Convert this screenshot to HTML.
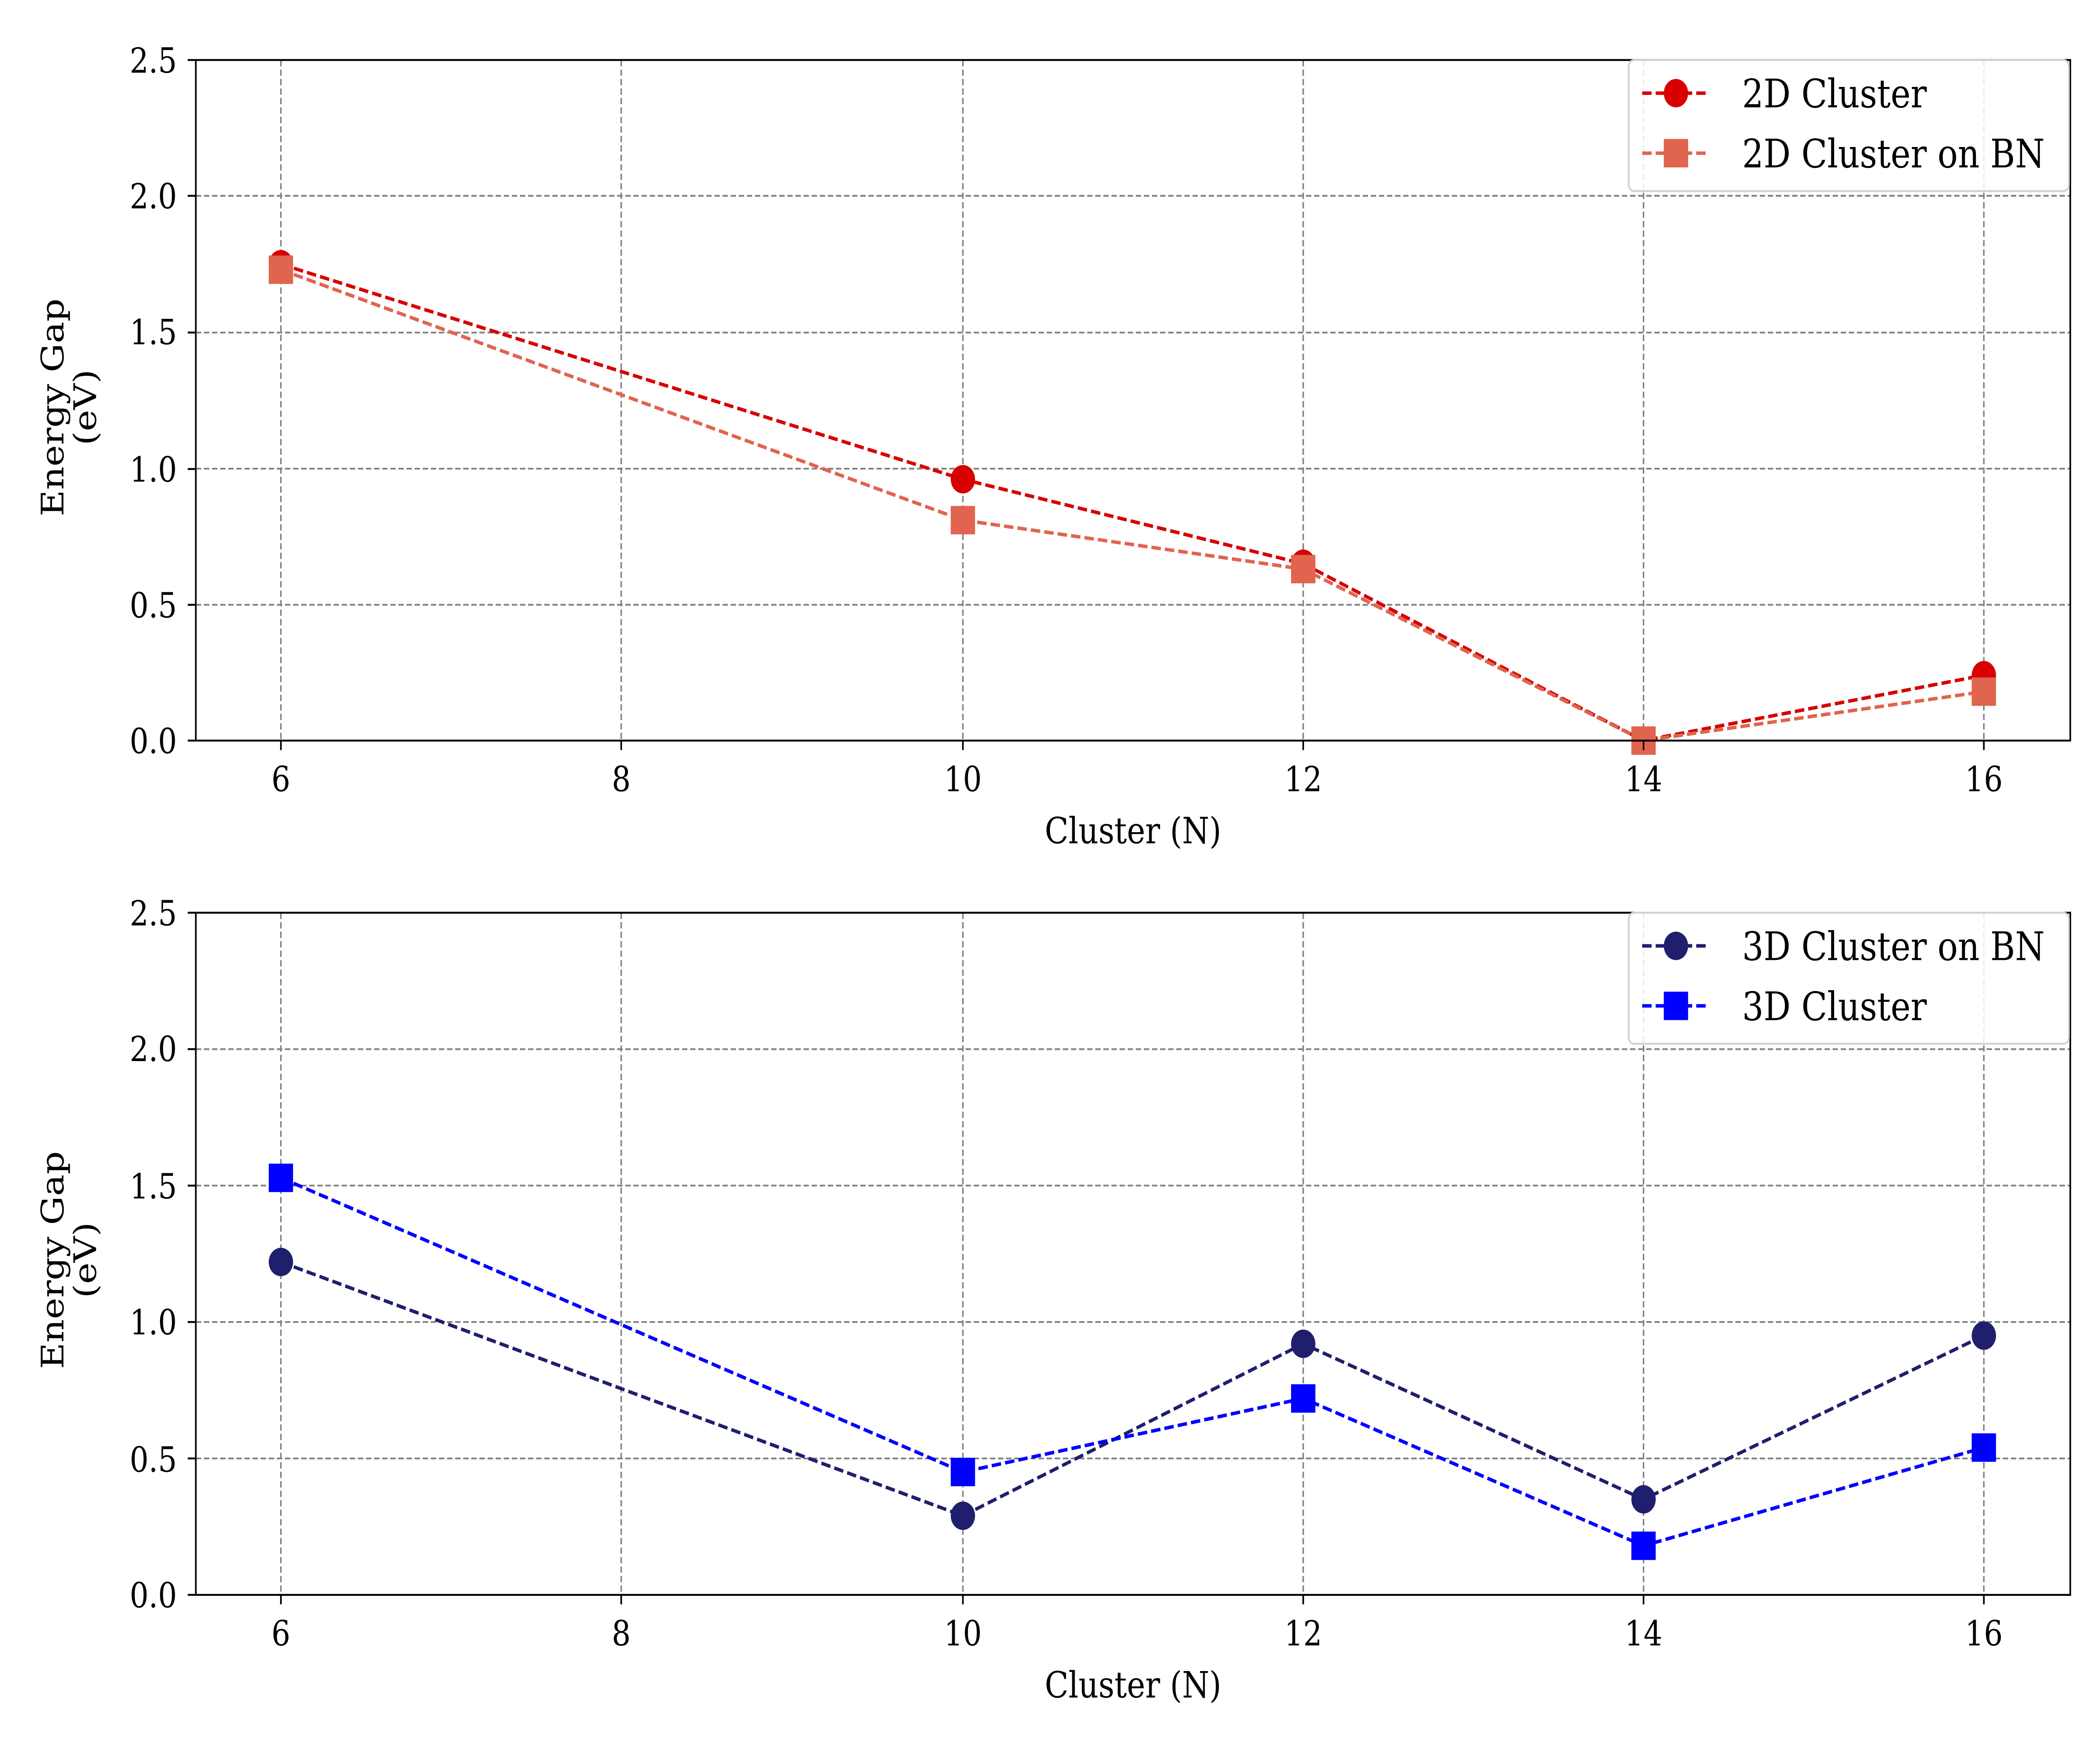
<!DOCTYPE html>
<html><head><meta charset="utf-8"><style>html,body{margin:0;padding:0;background:#fff;overflow:hidden;width:100%;height:100%}svg{display:block;width:100vw;height:100vh}</style></head>
<body>
<svg viewBox="0 0 1555 1100" preserveAspectRatio="none" xmlns="http://www.w3.org/2000/svg" font-family="DejaVu Serif, Liberation Serif, serif">
<rect width="1555" height="1100" fill="#fff"/>
<g id="top">
<g stroke="#808080" stroke-width="1.1" stroke-dasharray="4,2" fill="none">
<line x1="208" y1="38" x2="208" y2="469"/><line x1="460" y1="38" x2="460" y2="469"/><line x1="713" y1="38" x2="713" y2="469"/><line x1="965" y1="38" x2="965" y2="469"/><line x1="1217" y1="38" x2="1217" y2="469"/><line x1="1469" y1="38" x2="1469" y2="469"/>
<line x1="145" y1="124" x2="1533" y2="124"/><line x1="145" y1="210.6" x2="1533" y2="210.6"/><line x1="145" y1="296.8" x2="1533" y2="296.8"/><line x1="145" y1="383" x2="1533" y2="383"/>
</g>
<polyline fill="none" stroke="#d80000" stroke-width="2.2" stroke-dasharray="7,3" points="208,167.3 713,303.5 965,357 1217,469 1469,427.6"/>
<polyline fill="none" stroke="#e0644e" stroke-width="2.2" stroke-dasharray="7,3" points="208,170.8 713,329.4 965,360.4 1217,469 1469,438"/>
<g fill="#d80000"><circle cx="208" cy="167.3" r="9"/><circle cx="713" cy="303.5" r="9"/><circle cx="965" cy="357" r="9"/><circle cx="1217" cy="469" r="9"/><circle cx="1469" cy="427.6" r="9"/></g>
<g fill="#e0644e"><rect x="199" y="161.8" width="18" height="18"/><rect x="704" y="320.4" width="18" height="18"/><rect x="956" y="351.4" width="18" height="18"/><rect x="1208" y="460" width="18" height="18"/><rect x="1460" y="429" width="18" height="18"/></g>
<rect x="145" y="38" width="1388" height="431" fill="none" stroke="#000" stroke-width="1.2"/>
<rect x="1206" y="38" width="326" height="83" rx="4" fill="#fff" fill-opacity="0.85" stroke="#d0d0d0" stroke-width="1.2"/>
<line x1="1216" y1="59" x2="1266" y2="59" stroke="#d80000" stroke-width="2.2" stroke-dasharray="7,3"/><circle cx="1241" cy="59" r="9" fill="#d80000"/>
<line x1="1216" y1="97" x2="1266" y2="97" stroke="#e0644e" stroke-width="2.2" stroke-dasharray="7,3"/><rect x="1232" y="88" width="18" height="18" fill="#e0644e"/>
<text x="1290" y="68" font-size="25">2D Cluster</text><text x="1290" y="106" font-size="25">2D Cluster on BN</text>
<g font-size="22" text-anchor="end"><text x="131" y="477">0.0</text><text x="131" y="391">0.5</text><text x="131" y="305">1.0</text><text x="131" y="218">1.5</text><text x="131" y="132">2.0</text><text x="131" y="46">2.5</text></g>
<g stroke="#000" stroke-width="1.2"><line x1="139" y1="469" x2="145" y2="469"/><line x1="139" y1="383" x2="145" y2="383"/><line x1="139" y1="297" x2="145" y2="297"/><line x1="139" y1="210.6" x2="145" y2="210.6"/><line x1="139" y1="124" x2="145" y2="124"/><line x1="139" y1="38" x2="145" y2="38"/>
<line x1="208" y1="469" x2="208" y2="475"/><line x1="460" y1="469" x2="460" y2="475"/><line x1="713" y1="469" x2="713" y2="475"/><line x1="965" y1="469" x2="965" y2="475"/><line x1="1217" y1="469" x2="1217" y2="475"/><line x1="1469" y1="469" x2="1469" y2="475"/></g>
<g font-size="22" text-anchor="middle"><text x="208" y="501">6</text><text x="460" y="501">8</text><text x="713" y="501">10</text><text x="965" y="501">12</text><text x="1217" y="501">14</text><text x="1469" y="501">16</text></g>
<text x="839" y="534" font-size="23" text-anchor="middle">Cluster (N)</text>
<text transform="translate(47,258) rotate(-90)" font-size="23" text-anchor="middle">Energy Gap</text>
<text transform="translate(71,258) rotate(-90)" font-size="23" text-anchor="middle">(eV)</text>
</g>
<g id="bottom">
<g stroke="#808080" stroke-width="1.1" stroke-dasharray="4,2" fill="none">
<line x1="208" y1="578" x2="208" y2="1010"/><line x1="460" y1="578" x2="460" y2="1010"/><line x1="713" y1="578" x2="713" y2="1010"/><line x1="965" y1="578" x2="965" y2="1010"/><line x1="1217" y1="578" x2="1217" y2="1010"/><line x1="1469" y1="578" x2="1469" y2="1010"/>
<line x1="145" y1="664.4" x2="1533" y2="664.4"/><line x1="145" y1="750.8" x2="1533" y2="750.8"/><line x1="145" y1="837.2" x2="1533" y2="837.2"/><line x1="145" y1="923.6" x2="1533" y2="923.6"/>
</g>
<polyline fill="none" stroke="#1f1f6e" stroke-width="2.2" stroke-dasharray="7,3" points="208,799.2 713,959.9 965,851 1217,949.5 1469,845.8"/>
<polyline fill="none" stroke="#0000ff" stroke-width="2.2" stroke-dasharray="7,3" points="208,745.9 713,932.2 965,885.6 1217,978.9 1469,916.7"/>
<g fill="#1f1f6e"><circle cx="208" cy="799.2" r="9"/><circle cx="713" cy="959.9" r="9"/><circle cx="965" cy="851" r="9"/><circle cx="1217" cy="949.5" r="9"/><circle cx="1469" cy="845.8" r="9"/></g>
<g fill="#0000ff"><rect x="199" y="736.9" width="18" height="18"/><rect x="704" y="923.2" width="18" height="18"/><rect x="956" y="876.6" width="18" height="18"/><rect x="1208" y="969.9" width="18" height="18"/><rect x="1460" y="907.7" width="18" height="18"/></g>
<rect x="145" y="578" width="1388" height="432" fill="none" stroke="#000" stroke-width="1.2"/>
<rect x="1206" y="578" width="326" height="83" rx="4" fill="#fff" fill-opacity="0.85" stroke="#d0d0d0" stroke-width="1.2"/>
<line x1="1216" y1="599" x2="1266" y2="599" stroke="#1f1f6e" stroke-width="2.2" stroke-dasharray="7,3"/><circle cx="1241" cy="599" r="9" fill="#1f1f6e"/>
<line x1="1216" y1="637" x2="1266" y2="637" stroke="#0000ff" stroke-width="2.2" stroke-dasharray="7,3"/><rect x="1232" y="628" width="18" height="18" fill="#0000ff"/>
<text x="1290" y="608" font-size="25">3D Cluster on BN</text><text x="1290" y="646" font-size="25">3D Cluster</text>
<g font-size="22" text-anchor="end"><text x="131" y="1018">0.0</text><text x="131" y="932">0.5</text><text x="131" y="845">1.0</text><text x="131" y="759">1.5</text><text x="131" y="672">2.0</text><text x="131" y="586">2.5</text></g>
<g stroke="#000" stroke-width="1.2"><line x1="139" y1="1010" x2="145" y2="1010"/><line x1="139" y1="923.6" x2="145" y2="923.6"/><line x1="139" y1="837.2" x2="145" y2="837.2"/><line x1="139" y1="750.8" x2="145" y2="750.8"/><line x1="139" y1="664.4" x2="145" y2="664.4"/><line x1="139" y1="578" x2="145" y2="578"/>
<line x1="208" y1="1010" x2="208" y2="1016"/><line x1="460" y1="1010" x2="460" y2="1016"/><line x1="713" y1="1010" x2="713" y2="1016"/><line x1="965" y1="1010" x2="965" y2="1016"/><line x1="1217" y1="1010" x2="1217" y2="1016"/><line x1="1469" y1="1010" x2="1469" y2="1016"/></g>
<g font-size="22" text-anchor="middle"><text x="208" y="1042">6</text><text x="460" y="1042">8</text><text x="713" y="1042">10</text><text x="965" y="1042">12</text><text x="1217" y="1042">14</text><text x="1469" y="1042">16</text></g>
<text x="839" y="1075" font-size="23" text-anchor="middle">Cluster (N)</text>
<text transform="translate(47,798) rotate(-90)" font-size="23" text-anchor="middle">Energy Gap</text>
<text transform="translate(71,798) rotate(-90)" font-size="23" text-anchor="middle">(eV)</text>
</g>
</svg>
</body></html>
